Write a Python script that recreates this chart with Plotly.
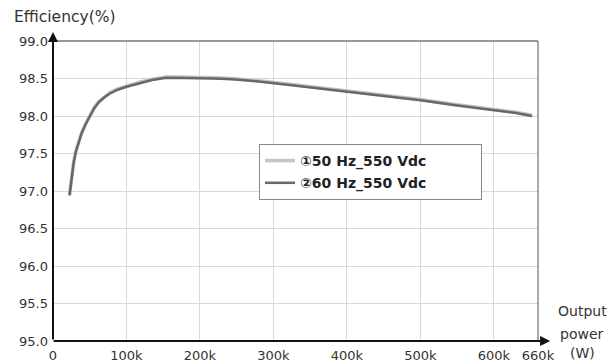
import plotly.graph_objects as go

# Output power (W)
power_w = [22500, 25000, 28000, 31000, 35000, 39000, 45000, 50500, 56000, 62000, 70000, 77500,
           88000, 100000, 118000, 135000, 154000, 175000, 199000, 220000, 244000, 280000,
           325000, 360000, 400000, 435000, 470000, 500000, 550000, 600000, 630000, 652000]
# Efficiency (%)
eff_50hz = [96.95, 97.17, 97.38, 97.53, 97.66, 97.78, 97.91, 98.02, 98.11, 98.19, 98.26, 98.31,
            98.36, 98.40, 98.45, 98.49, 98.52, 98.52, 98.52, 98.51, 98.50, 98.47,
            98.42, 98.38, 98.33, 98.29, 98.26, 98.22, 98.15, 98.09, 98.05, 98.01]
eff_60hz = [96.94, 97.16, 97.37, 97.52, 97.65, 97.77, 97.90, 98.01, 98.10, 98.18, 98.25, 98.30,
            98.35, 98.39, 98.44, 98.48, 98.51, 98.51, 98.51, 98.50, 98.49, 98.46,
            98.41, 98.37, 98.32, 98.28, 98.25, 98.21, 98.14, 98.08, 98.04, 98.00]

PAD = "\u00a0" * 11
series_names = ["<b>①50 Hz_550 Vdc</b>" + PAD, "<b>②60 Hz_550 Vdc</b>" + PAD]
x_tickvals = [0, 100000, 200000, 300000, 400000, 500000, 600000, 660000]
x_ticktext = ["0", "100k", "200k", "300k", "400k", "500k", "600k", "660k"]
y_tickvals = [95.0, 95.5, 96.0, 96.5, 97.0, 97.5, 98.0, 98.5, 99.0]
y_ticktext = ["95.0", "95.5", "96.0", "96.5", "97.0", "97.5", "98.0", "98.5", "99.0"]

FONT = "DejaVu Sans"
TXT = "#333333"

fig = go.Figure()
fig.add_trace(go.Scatter(x=power_w, y=eff_50hz, mode="lines", name=series_names[0],
                         legendgroup="a",
                         line=dict(color="#c4c4c4", width=3.5)))
fig.add_trace(go.Scatter(x=power_w, y=eff_60hz, mode="lines", name=series_names[1],
                         legendgroup="b",
                         line=dict(color="#686868", width=2.5)))

fig.update_layout(
    width=616, height=362,
    margin=dict(l=53, r=78, t=41, b=21, autoexpand=False),
    paper_bgcolor="white", plot_bgcolor="white",
    font=dict(family=FONT, size=13, color=TXT),
    showlegend=True,
    legend=dict(x=(259 - 53) / 485, y=(341 - 144) / 300, xanchor="left", yanchor="top",
                bgcolor="white", bordercolor="#888888", borderwidth=1,
                font=dict(family=FONT, size=14, color="#222222"),
                tracegroupgap=1, itemwidth=30),
    xaxis=dict(range=[0, 660000], tickvals=x_tickvals, ticktext=x_ticktext,
               showgrid=True, gridcolor="#d9d9d9", gridwidth=1, zeroline=False,
               showline=False, ticks="", automargin=False, ticklabelstandoff=5,
               tickfont=dict(size=13, color=TXT)),
    yaxis=dict(range=[95.0, 99.0], tickvals=y_tickvals, ticktext=y_ticktext,
               showgrid=True, gridcolor="#d9d9d9", gridwidth=1, zeroline=False,
               showline=False, ticks="", automargin=False, ticklabelstandoff=4,
               tickfont=dict(size=13, color=TXT)),
)

# frame (top / right) in dark gray
fig.add_shape(type="line", xref="paper", yref="paper", x0=0, x1=1, y0=1, y1=1,
              line=dict(color="#777777", width=1.5))
fig.add_shape(type="line", xref="paper", yref="paper", x0=1, x1=1, y0=0, y1=1,
              line=dict(color="#555555", width=1))

# axes with arrows
fig.add_annotation(xref="paper", yref="paper", x=0, y=1.03, ax=0, ay=309,
                   axref="pixel", ayref="pixel", text="", showarrow=True,
                   arrowhead=2, arrowsize=1, arrowwidth=2, arrowcolor="#111111")
fig.add_annotation(xref="paper", yref="paper", x=1.025, y=0, ax=-498, ay=0,
                   axref="pixel", ayref="pixel", text="", showarrow=True,
                   arrowhead=2, arrowsize=1, arrowwidth=2, arrowcolor="#111111")

# axis titles
fig.add_annotation(xref="paper", yref="paper", x=-41 / 485, y=1.0, yshift=24,
                   xanchor="left", yanchor="middle", text="Efficiency(%)",
                   showarrow=False, font=dict(family=FONT, size=15.5, color=TXT))
for txt, ys in [("Output", 30), ("power", 7), ("(W)", -12)]:
    fig.add_annotation(xref="paper", yref="paper", x=1.0, xshift=44, y=0, yshift=ys,
                       xanchor="center", yanchor="middle", text=txt, borderpad=0,
                       showarrow=False, font=dict(family=FONT, size=14, color=TXT))

fig.write_html("out.html", config={"displayModeBar": False},
               post_script="document.body.style.margin='0';document.body.style.overflow='hidden';")
